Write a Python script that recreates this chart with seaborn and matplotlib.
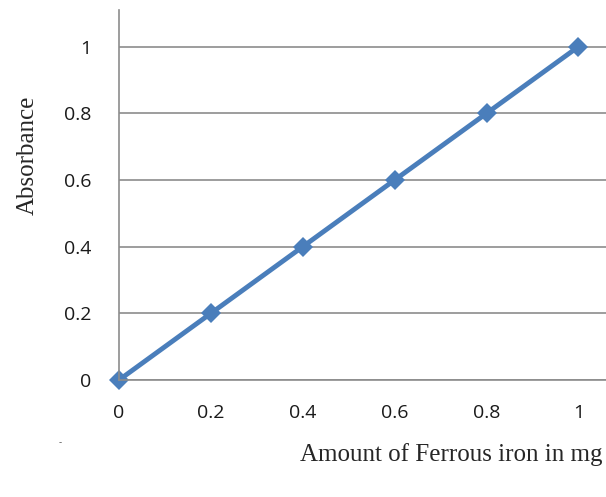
import matplotlib
matplotlib.use("Agg")
import matplotlib.pyplot as plt
import seaborn as sns
import pandas as pd

# calibration data
iron_mg = [0, 0.2, 0.4, 0.6, 0.8, 1.0]
absorbance = [0, 0.2, 0.4, 0.6, 0.8, 1.0]
x_ticks = [0, 0.2, 0.4, 0.6, 0.8, 1]
y_ticks = [0, 0.2, 0.4, 0.6, 0.8, 1]

df = pd.DataFrame({"Iron": iron_mg, "Absorbance": absorbance})

sns.set_style("white")
plt.rcParams["font.family"] = ["Open Sans", "DejaVu Sans"]

fig = plt.figure(figsize=(6.06, 4.97), dpi=100)
ax = fig.add_axes([119 / 606, 1 - 380 / 497, 487 / 606, 370 / 497])

sns.lineplot(data=df, x="Iron", y="Absorbance", ax=ax, color="#4a7ebb",
             linewidth=3.5, marker="D", markersize=10, markeredgewidth=0, clip_on=False)

ax.set_xlim(0, 1.06)
ax.set_ylim(0, 1.11)
ax.set_xticks(x_ticks)
ax.set_yticks(y_ticks)
ax.set_xticklabels(["0", "0.2", "0.4", "0.6", "0.8", "1"])
ax.set_yticklabels(["0", "0.2", "0.4", "0.6", "0.8", "1"])
ax.grid(axis="y", color="#8c8c8c", linewidth=1.2)
ax.set_axisbelow(True)

for s in ["top", "right"]:
    ax.spines[s].set_visible(False)
for s in ["left", "bottom"]:
    ax.spines[s].set_color("#8c8c8c")
    ax.spines[s].set_linewidth(1.2)

ax.tick_params(axis="both", direction="out", length=6, width=1.2, color="#8c8c8c",
               labelsize=14, labelcolor="#1a1a1a")
ax.tick_params(axis="y", pad=14)
ax.tick_params(axis="x", pad=11)

ax.set_xlabel("")
ax.set_ylabel("")
fig.text(28 / 606, 1 - 155 / 497, "Absorbance", rotation=90, ha="center", va="center",
         fontsize=18, family="Liberation Serif")
fig.text(1 - 3 / 606, 1 - 455 / 497, "Amount of Ferrous iron in mg", ha="right", va="center",
         fontsize=18, family="Liberation Serif")
fig.text(60 / 606, 1 - 443 / 497, "-", ha="center", va="center", fontsize=7, color="#555555")

fig.savefig("out.png", dpi=100)
